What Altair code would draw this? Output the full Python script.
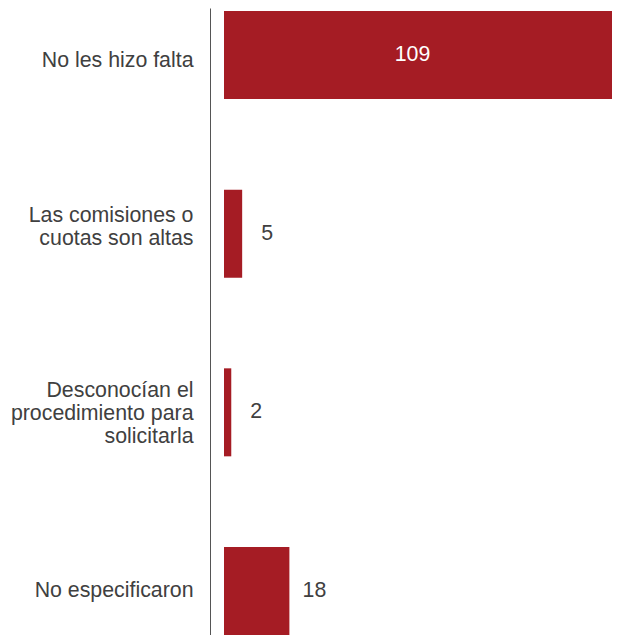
import altair as alt
import pandas as pd

categories = [
    "No les hizo falta",
    "Las comisiones o\ncuotas son altas",
    "Desconocían el\nprocedimiento para\nsolicitarla",
    "No especificaron",
]
values = [109, 5, 2, 18]

df = pd.DataFrame({"cat": categories, "val": values})

RED = "#A51C24"
FONT = "Liberation Sans"
FS = 21.33

label_offset = {
    "condition": [
        {"test": f"datum.value == {categories[0]!r}", "value": 11.7},
        {"test": f"indexof(datum.value, 'comisiones') >= 0", "value": -12},
        {"test": f"indexof(datum.value, 'Desconoc') >= 0", "value": -15.6},
    ],
    "value": 5.7,
}

y_enc = alt.Y(
    "cat:N",
    sort=categories,
    scale=alt.Scale(paddingInner=0.5075, paddingOuter=0.0084, align=1),
    axis=alt.Axis(
        title=None,
        ticks=False,
        domain=True,
        domainColor="#555555",
        domainWidth=1,
        offset=14,
        labelPadding=17,
        labelFont=FONT,
        labelFontSize=FS,
        labelColor="#404040",
        labelLineHeight=23.3,
        labelLimit=300,
        labelBaseline="alphabetic",
        labelOffset=label_offset,
        labelExpr="split(datum.label, '\\n')",
    ),
)
# plot is clipped at the window edge, as in the reference
x_scale = alt.Scale(domain=[0, 106.8], nice=False, zero=True)

bars = alt.Chart(df).mark_bar(color=RED, clip=True).encode(
    x=alt.X("val:Q", scale=x_scale, axis=None),
    y=y_enc,
)

outside = alt.Chart(df).transform_filter("datum.val < 50").mark_text(
    align="center", baseline="middle", dx=25, font=FONT, fontSize=FS, color="#404040"
).encode(
    x=alt.X("val:Q", scale=x_scale, axis=None),
    y=alt.Y("cat:N", sort=categories),
    text="val:Q",
)

inside = alt.Chart(df).transform_filter("datum.val >= 50").transform_calculate(
    mid="datum.val / 2"
).mark_text(
    align="center", baseline="middle", dx=-9.5, font=FONT, fontSize=FS, color="white"
).encode(
    x=alt.X("mid:Q", scale=x_scale, axis=None),
    y=alt.Y("cat:N", sort=categories),
    text="val:Q",
)

chart = alt.layer(bars, outside, inside).properties(
    width=388,
    height=627,
    autosize=alt.AutoSizeParams(type="none"),
    padding={"left": 216, "top": 0, "right": 0, "bottom": 0},
).configure_view(stroke=None)

chart.save("out.html", embed_options={"renderer": "svg", "actions": False})
